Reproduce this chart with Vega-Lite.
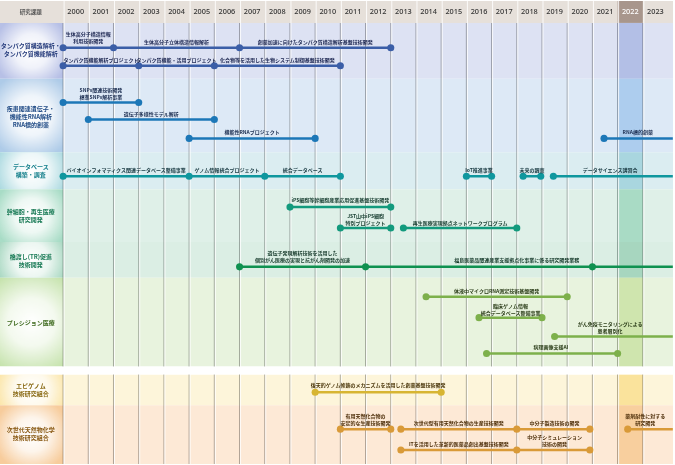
{
 "$schema": "https://vega.github.io/schema/vega-lite/v6.json",
 "width": 675, "height": 465, "padding": 0,
 "autosize": {"type": "fit", "contains": "padding"},
 "background": "white",
 "config": {"view": {"stroke": null}, "text": {"font": "Noto Sans CJK JP"}},
 "datasets": {
  "bands": [
   {"row": "r1", "y0": 22, "y1": 78, "top": 45, "label": ["タンパク質構造解析・", "タンパク質機能解析"]},
   {"row": "r2", "y0": 78, "y1": 152, "top": 108, "label": ["疾患関連遺伝子・", "機能性RNA解析", "RNA標的創薬"]},
   {"row": "r3", "y0": 152, "y1": 189, "top": 166.5, "label": ["データベース", "構築・調査"]},
   {"row": "r4", "y0": 189, "y1": 242, "top": 212, "label": ["幹細胞・再生医療", "研究開発"]},
   {"row": "r5", "y0": 242, "y1": 278, "top": 257, "label": ["橋渡し(TR)促進", "技術開発"]},
   {"row": "r6", "y0": 278, "y1": 367, "top": 323, "label": ["プレシジョン医療"]},
   {"row": "r7", "y0": 375, "y1": 406, "top": 386.5, "label": ["エピゲノム", "技術研究組合"]},
   {"row": "r8", "y0": 406, "y1": 465, "top": 431, "label": ["次世代天然物化学", "技術研究組合"]}
  ],
  "years": [
   {"year": 2000}, {"year": 2001}, {"year": 2002}, {"year": 2003}, {"year": 2004}, {"year": 2005},
   {"year": 2006}, {"year": 2007}, {"year": 2008}, {"year": 2009}, {"year": 2010}, {"year": 2011},
   {"year": 2012}, {"year": 2013}, {"year": 2014}, {"year": 2015}, {"year": 2016}, {"year": 2017},
   {"year": 2018}, {"year": 2019}, {"year": 2020}, {"year": 2021}, {"year": 2022}, {"year": 2023}
  ],
  "lines": [
   {"row": "r1", "x": 2000, "x2": 2013, "y": 47},
   {"row": "r1", "x": 2000, "x2": 2011, "y": 65},
   {"row": "r2", "x": 2000, "x2": 2003, "y": 102},
   {"row": "r2", "x": 2001, "x2": 2006, "y": 119},
   {"row": "r2", "x": 2005, "x2": 2010, "y": 138},
   {"row": "r2", "x": 2021.46, "x2": 2024.19, "y": 138},
   {"row": "r3", "x": 2000, "x2": 2011, "y": 176},
   {"row": "r3", "x": 2016, "x2": 2017, "y": 176},
   {"row": "r3", "x": 2018.25, "x2": 2018.95, "y": 176},
   {"row": "r3", "x": 2019.45, "x2": 2024.19, "y": 176},
   {"row": "r4", "x": 2009, "x2": 2013, "y": 207},
   {"row": "r4", "x": 2011, "x2": 2013, "y": 228},
   {"row": "r4", "x": 2013.5, "x2": 2018, "y": 228},
   {"row": "r5", "x": 2007, "x2": 2024.19, "y": 267},
   {"row": "r6", "x": 2014.4, "x2": 2020, "y": 297},
   {"row": "r6", "x": 2016.5, "x2": 2019, "y": 318},
   {"row": "r6", "x": 2019.5, "x2": 2024.19, "y": 337},
   {"row": "r6", "x": 2016.8, "x2": 2022, "y": 354},
   {"row": "r7", "x": 2010, "x2": 2015, "y": 393},
   {"row": "r8", "x": 2011, "x2": 2013, "y": 430},
   {"row": "r8", "x": 2013.4, "x2": 2020.9, "y": 430},
   {"row": "r8", "x": 2013.4, "x2": 2020.9, "y": 451},
   {"row": "r8", "x": 2022.4, "x2": 2024.19, "y": 430}
  ],
  "markers": [
   {"row": "r1", "x": 2000, "y": 47}, {"row": "r1", "x": 2002, "y": 47}, {"row": "r1", "x": 2007, "y": 47}, {"row": "r1", "x": 2013, "y": 47},
   {"row": "r1", "x": 2000, "y": 65}, {"row": "r1", "x": 2003, "y": 65}, {"row": "r1", "x": 2006, "y": 65}, {"row": "r1", "x": 2011, "y": 65},
   {"row": "r2", "x": 2000, "y": 102}, {"row": "r2", "x": 2003, "y": 102}, {"row": "r2", "x": 2001, "y": 119}, {"row": "r2", "x": 2006, "y": 119},
   {"row": "r2", "x": 2005, "y": 138}, {"row": "r2", "x": 2010, "y": 138}, {"row": "r2", "x": 2021.46, "y": 138},
   {"row": "r3", "x": 2000, "y": 176}, {"row": "r3", "x": 2005, "y": 176}, {"row": "r3", "x": 2008, "y": 176}, {"row": "r3", "x": 2011, "y": 176},
   {"row": "r3", "x": 2016, "y": 176}, {"row": "r3", "x": 2017, "y": 176}, {"row": "r3", "x": 2018.25, "y": 176}, {"row": "r3", "x": 2018.95, "y": 176}, {"row": "r3", "x": 2019.45, "y": 176},
   {"row": "r4", "x": 2009, "y": 207}, {"row": "r4", "x": 2013, "y": 207}, {"row": "r4", "x": 2011, "y": 228}, {"row": "r4", "x": 2013, "y": 228},
   {"row": "r4", "x": 2013.5, "y": 228}, {"row": "r4", "x": 2018, "y": 228},
   {"row": "r5", "x": 2007, "y": 267}, {"row": "r5", "x": 2012, "y": 267}, {"row": "r5", "x": 2021, "y": 267},
   {"row": "r6", "x": 2014.4, "y": 297}, {"row": "r6", "x": 2020, "y": 297}, {"row": "r6", "x": 2016.5, "y": 318}, {"row": "r6", "x": 2019, "y": 318},
   {"row": "r6", "x": 2019.5, "y": 337}, {"row": "r6", "x": 2016.8, "y": 354}, {"row": "r6", "x": 2022, "y": 354},
   {"row": "r7", "x": 2010, "y": 393}, {"row": "r7", "x": 2015, "y": 393},
   {"row": "r8", "x": 2011, "y": 430}, {"row": "r8", "x": 2013, "y": 430}, {"row": "r8", "x": 2013.4, "y": 430}, {"row": "r8", "x": 2018, "y": 430},
   {"row": "r8", "x": 2020.9, "y": 430}, {"row": "r8", "x": 2013.4, "y": 451}, {"row": "r8", "x": 2018, "y": 451}, {"row": "r8", "x": 2020.9, "y": 451},
   {"row": "r8", "x": 2022.4, "y": 430}
  ],
  "labels": [
   {"row": "r1", "x": 2001, "y": 33, "t": ["生体高分子構造情報", "利用技術開発"]},
   {"row": "r1", "x": 2004.5, "y": 41, "t": ["生体高分子立体構造情報解析"]},
   {"row": "r1", "x": 2010, "y": 41, "t": ["創薬加速に向けたタンパク質構造解析基盤技術開発"]},
   {"row": "r1", "x": 2001.5, "y": 59, "t": ["タンパク質機能解析プロジェクト"]},
   {"row": "r1", "x": 2004.5, "y": 59, "t": ["タンパク質機能・活用プロジェクト"]},
   {"row": "r1", "x": 2008.5, "y": 59, "t": ["化合物等を活用した生物システム制御基盤技術開発"]},
   {"row": "r2", "x": 2001.5, "y": 89, "t": ["SNPs関連技術開発", "標準SNPs解析事業"]},
   {"row": "r2", "x": 2003.5, "y": 113, "t": ["遺伝子多様性モデル解析"]},
   {"row": "r2", "x": 2007.5, "y": 132, "t": ["機能性RNAプロジェクト"]},
   {"row": "r2", "x": 2022.8, "y": 132, "t": ["RNA標的創薬"]},
   {"row": "r3", "x": 2002.5, "y": 170, "t": ["バイオインフォマティクス関連データベース整備事業"]},
   {"row": "r3", "x": 2006.5, "y": 170, "t": ["ゲノム情報統合プロジェクト"]},
   {"row": "r3", "x": 2009.5, "y": 170, "t": ["統合データベース"]},
   {"row": "r3", "x": 2016.5, "y": 170, "t": ["IoT推進事業"]},
   {"row": "r3", "x": 2018.6, "y": 170, "t": ["未来の調査"]},
   {"row": "r3", "x": 2021.7, "y": 170, "t": ["データサイエンス講習会"]},
   {"row": "r4", "x": 2011, "y": 200, "t": ["iPS細胞等幹細胞産業応用促進基盤技術開発"]},
   {"row": "r4", "x": 2012, "y": 216, "t": ["JST山中iPS細胞", "特別プロジェクト"]},
   {"row": "r4", "x": 2015.75, "y": 222.5, "t": ["再生医療実現拠点ネットワークプログラム"]},
   {"row": "r5", "x": 2009.5, "y": 253, "t": ["遺伝子発現解析技術を活用した", "個別がん医療の実現と抗がん剤開発の加速"]},
   {"row": "r5", "x": 2018, "y": 260, "t": ["福島医薬品関連産業支援拠点化事業に係る研究開発業務"]},
   {"row": "r6", "x": 2017.2, "y": 291, "t": ["体液中マイクロRNA測定技術基盤開発"]},
   {"row": "r6", "x": 2017.75, "y": 306, "t": ["臨床ゲノム情報", "統合データベース整備事業"]},
   {"row": "r6", "x": 2021.7, "y": 324, "t": ["がん免疫モニタリングによる", "患者層別化"]},
   {"row": "r6", "x": 2019.35, "y": 347.5, "t": ["病理画像支援AI"]},
   {"row": "r7", "x": 2012.5, "y": 386, "t": ["後天的ゲノム修飾のメカニズムを活用した創薬基盤技術開発"]},
   {"row": "r8", "x": 2012, "y": 417, "t": ["有用天然化合物の", "安定的な生産技術開発"]},
   {"row": "r8", "x": 2015.7, "y": 424, "t": ["次世代型有用天然化合物の生産技術開発"]},
   {"row": "r8", "x": 2019.5, "y": 424, "t": ["中分子製造技術の開発"]},
   {"row": "r8", "x": 2015.7, "y": 445, "t": ["ITを活用した革新的医薬品創出基盤技術開発"]},
   {"row": "r8", "x": 2019.5, "y": 438, "t": ["中分子シミュレーション", "技術の開発"]},
   {"row": "r8", "x": 2023.1, "y": 417, "t": ["薬剤耐性に対する", "研究開発"]}
  ]
 },
 "resolve": {"scale": {"color": "independent", "fill": "independent", "stroke": "independent"}},
 "layer": [
  {
   "data": {"name": "bands"},
   "mark": {"type": "rect"},
   "encoding": {
    "x": {"datum": 2000, "type": "quantitative", "scale": {"domain": [1997.496, 2024.197], "nice": false, "zero": false}, "axis": null},
    "x2": {"datum": 2024.197},
    "y": {"field": "y0", "type": "quantitative", "scale": {"domain": [0, 465], "reverse": true, "nice": false, "zero": false}, "axis": null},
    "y2": {"field": "y1"},
    "color": {"field": "row", "type": "nominal", "legend": null, "scale": {"domain": ["r1", "r2", "r3", "r4", "r5", "r6", "r7", "r8"], "range": ["#dde2f3", "#dde9f6", "#dbedf1", "#dff0e8", "#dbeee4", "#e8f3de", "#fdf5da", "#fde9d6"]}}
   }
  },
  {
   "data": {"name": "bands"},
   "mark": {"type": "rect"},
   "encoding": {
    "x": {"datum": 2022, "type": "quantitative"},
    "x2": {"datum": 2023},
    "y": {"field": "y0", "type": "quantitative"},
    "y2": {"field": "y1"},
    "color": {"field": "row", "type": "nominal", "legend": null, "scale": {"domain": ["r1", "r2", "r3", "r4", "r5", "r6", "r7", "r8"], "range": ["#b3bfe6", "#adcdee", "#a9d6df", "#a9dbc5", "#a7d6bf", "#cfe5ae", "#fae39c", "#f8cf9e"]}}
   }
  },
  {
   "data": {"name": "bands"},
   "mark": {"type": "rect"},
   "encoding": {
    "x": {"datum": 1997.496, "type": "quantitative"},
    "x2": {"datum": 2000},
    "y": {"field": "y0", "type": "quantitative"},
    "y2": {"field": "y1"},
    "color": {"field": "row", "type": "nominal", "legend": null, "scale": {"domain": ["r1", "r2", "r3", "r4", "r5", "r6", "r7", "r8"], "range": ["#b7c0e6", "#aecbe8", "#a6d7de", "#a8dcc6", "#a2d5bd", "#c6e3ad", "#fbe3a0", "#f7cc9c"]}}
   }
  },
  {
   "data": {"name": "bands"},
   "mark": {"type": "rect", "color": {"gradient": "radial", "x1": 0.5, "y1": 0.5, "r1": 0, "x2": 0.5, "y2": 0.5, "r2": 0.6, "stops": [{"offset": 0, "color": "rgba(255,255,255,1)"}, {"offset": 0.45, "color": "rgba(255,255,255,0.8)"}, {"offset": 1, "color": "rgba(255,255,255,0)"}]}},
   "encoding": {
    "x": {"datum": 1997.496, "type": "quantitative"},
    "x2": {"datum": 2000},
    "y": {"field": "y0", "type": "quantitative"},
    "y2": {"field": "y1"}
   }
  },
  {
   "data": {"name": "years"},
   "mark": {"type": "rule", "color": "#b4b4b4", "blend": "multiply", "strokeWidth": 1.1},
   "encoding": {
    "x": {"field": "year", "type": "quantitative"},
    "y": {"datum": 22, "type": "quantitative"},
    "y2": {"datum": 465}
   }
  },
  {
   "data": {"values": [{}]},
   "mark": {"type": "rect", "color": "white"},
   "encoding": {
    "x": {"datum": 1997.496, "type": "quantitative"},
    "x2": {"datum": 2024.197},
    "y": {"datum": 367, "type": "quantitative"},
    "y2": {"datum": 375}
   }
  },
  {
   "data": {"values": [{}]},
   "mark": {"type": "rect", "color": "#e6e0da"},
   "encoding": {
    "x": {"datum": 1997.496, "type": "quantitative"},
    "x2": {"datum": 2024.197},
    "y": {"datum": 0, "type": "quantitative"},
    "y2": {"datum": 22}
   }
  },
  {
   "data": {"values": [{}]},
   "mark": {"type": "rect", "color": "#a8968c"},
   "encoding": {
    "x": {"datum": 2022, "type": "quantitative"},
    "x2": {"datum": 2023},
    "y": {"datum": 0, "type": "quantitative"},
    "y2": {"datum": 22}
   }
  },
  {
   "data": {"name": "years"},
   "mark": {"type": "rule", "color": "white", "strokeWidth": 1, "opacity": 0.85, "xOffset": 1},
   "encoding": {
    "x": {"field": "year", "type": "quantitative"},
    "y": {"datum": 0, "type": "quantitative"},
    "y2": {"datum": 465}
   }
  },
  {
   "data": {"name": "lines"},
   "mark": {"type": "rule", "strokeWidth": 2.5, "strokeCap": "butt"},
   "encoding": {
    "x": {"field": "x", "type": "quantitative"},
    "x2": {"field": "x2"},
    "y": {"field": "y", "type": "quantitative"},
    "color": {"field": "row", "type": "nominal", "legend": null, "scale": {"domain": ["r1", "r2", "r3", "r4", "r5", "r6", "r7", "r8"], "range": ["#3b5ea7", "#1c77b7", "#0f979e", "#129a7d", "#0f9150", "#7db04b", "#d7b532", "#d99a38"]}}
   }
  },
  {
   "data": {"name": "markers"},
   "mark": {"type": "circle", "size": 50, "opacity": 1},
   "encoding": {
    "x": {"field": "x", "type": "quantitative"},
    "y": {"field": "y", "type": "quantitative"},
    "color": {"field": "row", "type": "nominal", "legend": null, "scale": {"domain": ["r1", "r2", "r3", "r4", "r5", "r6", "r7", "r8"], "range": ["#3b5ea7", "#1c77b7", "#0f979e", "#129a7d", "#0f9150", "#7db04b", "#d7b532", "#d99a38"]}}
   }
  },
  {
   "data": {"name": "labels"},
   "mark": {"type": "text", "fontSize": 5, "lineHeight": 7, "align": "center", "baseline": "middle", "fontWeight": "bold"},
   "encoding": {
    "x": {"field": "x", "type": "quantitative"},
    "y": {"field": "y", "type": "quantitative"},
    "text": {"field": "t"},
    "color": {"field": "row", "type": "nominal", "legend": null, "scale": {"domain": ["r1", "r2", "r3", "r4", "r5", "r6", "r7", "r8"], "range": ["#1b2550", "#1b2d50", "#173840", "#163d30", "#15392a", "#2a3c18", "#4a360a", "#4c2d08"]}}
   }
  },
  {
   "data": {"name": "bands"},
   "mark": {"type": "text", "fontSize": 6, "lineHeight": 8.2, "align": "center", "baseline": "middle", "fontWeight": "bold"},
   "encoding": {
    "x": {"datum": 1998.72, "type": "quantitative"},
    "y": {"field": "top", "type": "quantitative"},
    "text": {"field": "label"},
    "color": {"field": "row", "type": "nominal", "legend": null, "scale": {"domain": ["r1", "r2", "r3", "r4", "r5", "r6", "r7", "r8"], "range": ["#23397a", "#1f4a85", "#16808c", "#187a55", "#187a55", "#3e6a1e", "#8a6a14", "#8a5a14"]}}
   }
  },
  {
   "data": {"name": "years"},
   "transform": [{"calculate": "datum.year + 0.5", "as": "xc"}],
   "mark": {"type": "text", "fontSize": 7.3, "font": "Noto Sans", "align": "center", "baseline": "middle", "fontWeight": 500},
   "encoding": {
    "x": {"field": "xc", "type": "quantitative"},
    "y": {"datum": 11.5, "type": "quantitative"},
    "text": {"field": "year", "type": "nominal"},
    "color": {"condition": {"test": "datum.year == 2022", "value": "#ffffff"}, "value": "#333333"}
   }
  },
  {
   "data": {"values": [{"t": "研究課題"}]},
   "mark": {"type": "text", "fontSize": 5.5, "fontWeight": "bold", "align": "center", "baseline": "middle", "color": "#555555"},
   "encoding": {
    "x": {"datum": 1998.72, "type": "quantitative"},
    "y": {"datum": 11.5, "type": "quantitative"},
    "text": {"field": "t"}
   }
  }
 ]
}
